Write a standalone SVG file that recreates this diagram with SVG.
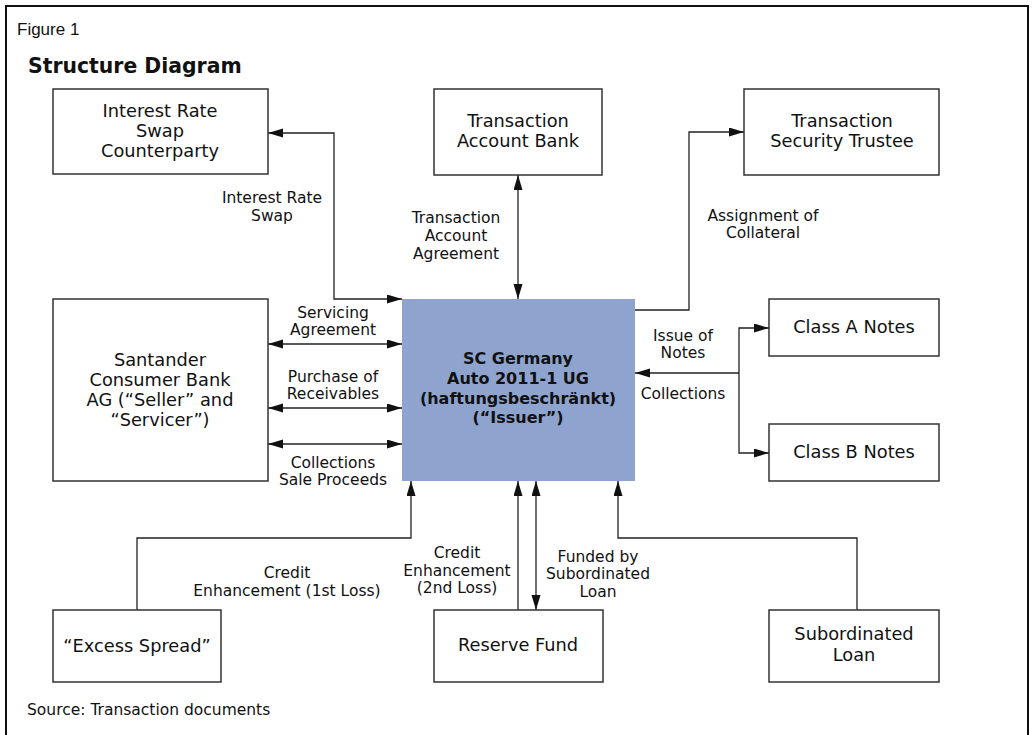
<svg xmlns="http://www.w3.org/2000/svg" width="1032" height="735" viewBox="0 0 1032 735">
<defs>
<marker id="ah" markerUnits="userSpaceOnUse" markerWidth="16" markerHeight="10" refX="15" refY="4.5" orient="auto-start-reverse">
<path d="M0,0 L15,4.5 L0,9 Z" fill="#111"/>
</marker>
</defs>
<style>
.box{fill:#fff;stroke:#333;stroke-width:1.5}
.bt{font-family:"DejaVu Sans",Verdana,sans-serif;font-size:17.8px;fill:#111;text-anchor:middle}
.lt{font-family:"DejaVu Sans",Verdana,sans-serif;font-size:15.5px;fill:#111;text-anchor:middle}
.it{font-family:"DejaVu Sans",Verdana,sans-serif;font-size:16px;font-weight:bold;fill:#111;text-anchor:middle}
.cn{fill:none;stroke:#222;stroke-width:1.3}
</style>
<rect x="0" y="0" width="1032" height="735" fill="#fff"/>
<rect x="6" y="6" width="1022" height="740" fill="none" stroke="#111" stroke-width="2"/>
<text x="17" y="35" font-family="Liberation Sans,Arial,sans-serif" font-size="17" fill="#111">Figure 1</text>
<text x="28" y="73" font-family="DejaVu Sans,Verdana,sans-serif" font-size="20.4" font-weight="bold" fill="#111">Structure Diagram</text>

<g id="connectors">
<path class="cn" d="M268,133 H334 V299 H402" marker-start="url(#ah)" marker-end="url(#ah)"/>
<path class="cn" d="M518,175 V299" marker-start="url(#ah)" marker-end="url(#ah)"/>
<path class="cn" d="M635,310 H689 V132 H744" marker-end="url(#ah)"/>
<path class="cn" d="M268,344 H402" marker-start="url(#ah)" marker-end="url(#ah)"/>
<path class="cn" d="M268,408 H402" marker-start="url(#ah)" marker-end="url(#ah)"/>
<path class="cn" d="M268,444 H402" marker-start="url(#ah)" marker-end="url(#ah)"/>
<path class="cn" d="M739,373 H635" marker-end="url(#ah)"/>
<path class="cn" d="M769,328 H739 V453 H769" marker-start="url(#ah)" marker-end="url(#ah)"/>
<path class="cn" d="M137,610 V538 H411 V481" marker-end="url(#ah)"/>
<path class="cn" d="M518,610 V481" marker-end="url(#ah)"/>
<path class="cn" d="M536,481 V610" marker-start="url(#ah)" marker-end="url(#ah)"/>
<path class="cn" d="M857,610 V538 H618 V481" marker-end="url(#ah)"/>
<text class="lt" x="272" y="203">Interest Rate</text>
<text class="lt" x="272" y="221">Swap</text>
<text class="lt" x="456" y="223">Transaction</text>
<text class="lt" x="456" y="241">Account</text>
<text class="lt" x="456" y="259">Agreement</text>
<text class="lt" x="763" y="221">Assignment of</text>
<text class="lt" x="763" y="238">Collateral</text>
<text class="lt" x="333" y="318">Servicing</text>
<text class="lt" x="333" y="335">Agreement</text>
<text class="lt" x="333" y="382">Purchase of</text>
<text class="lt" x="333" y="399">Receivables</text>
<text class="lt" x="333" y="468">Collections</text>
<text class="lt" x="333" y="485">Sale Proceeds</text>
<text class="lt" x="683" y="341">Issue of</text>
<text class="lt" x="683" y="358">Notes</text>
<text class="lt" x="683" y="399">Collections</text>
<text class="lt" x="287" y="578">Credit</text>
<text class="lt" x="287" y="596">Enhancement (1st Loss)</text>
<text class="lt" x="457" y="558">Credit</text>
<text class="lt" x="457" y="576">Enhancement</text>
<text class="lt" x="457" y="593">(2nd Loss)</text>
<text class="lt" x="598" y="562">Funded by</text>
<text class="lt" x="598" y="579">Subordinated</text>
<text class="lt" x="598" y="597">Loan</text>
</g>

<g id="irs">
<rect class="box" x="53" y="89" width="215" height="85"/>
<text class="bt" x="160" y="117">Interest Rate</text>
<text class="bt" x="160" y="137">Swap</text>
<text class="bt" x="160" y="157">Counterparty</text>
</g>
<g id="tab">
<rect class="box" x="434" y="89" width="168" height="86"/>
<text class="bt" x="518" y="127">Transaction</text>
<text class="bt" x="518" y="147">Account Bank</text>
</g>
<g id="tst">
<rect class="box" x="744" y="89" width="195" height="86"/>
<text class="bt" x="842" y="127">Transaction</text>
<text class="bt" x="842" y="147">Security Trustee</text>
</g>
<g id="santander">
<rect class="box" x="53" y="299" width="215" height="182"/>
<text class="bt" x="160" y="366">Santander</text>
<text class="bt" x="160" y="386">Consumer Bank</text>
<text class="bt" x="160" y="406">AG (“Seller” and</text>
<text class="bt" x="160" y="426">“Servicer”)</text>
</g>
<g id="issuer">
<rect x="402" y="299" width="233" height="182" fill="#8fa3cf"/>
<text class="it" x="518" y="364">SC Germany</text>
<text class="it" x="518" y="384">Auto 2011-1 UG</text>
<text class="it" x="518" y="403.5">(haftungsbeschränkt)</text>
<text class="it" x="518" y="423">(“Issuer”)</text>
</g>
<g id="classa">
<rect class="box" x="769" y="299" width="170" height="57"/>
<text class="bt" x="854" y="333">Class A Notes</text>
</g>
<g id="classb">
<rect class="box" x="769" y="424" width="170" height="57"/>
<text class="bt" x="854" y="458">Class B Notes</text>
</g>
<g id="excess">
<rect class="box" x="53" y="610" width="168" height="72"/>
<text class="bt" x="137" y="652">“Excess Spread”</text>
</g>
<g id="reserve">
<rect class="box" x="434" y="610" width="169" height="72"/>
<text class="bt" x="518" y="651">Reserve Fund</text>
</g>
<g id="subloan">
<rect class="box" x="769" y="610" width="170" height="72"/>
<text class="bt" x="854" y="640">Subordinated</text>
<text class="bt" x="854" y="661">Loan</text>
</g>
<text x="27" y="715" font-family="DejaVu Sans,Verdana,sans-serif" font-size="15.5" fill="#111">Source: Transaction documents</text>
</svg>
